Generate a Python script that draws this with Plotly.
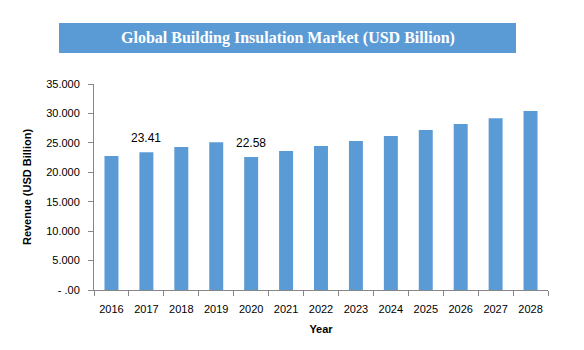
import plotly.graph_objects as go

years = ["2016", "2017", "2018", "2019", "2020", "2021", "2022", "2023", "2024", "2025", "2026", "2027", "2028"]
revenue = [22.75, 23.41, 24.28, 25.10, 22.58, 23.60, 24.45, 25.30, 26.15, 27.20, 28.20, 29.20, 30.40]
bar_labels = ["", "23.41", "", "", "22.58", "", "", "", "", "", "", "", ""]
ytick_vals = [0, 5, 10, 15, 20, 25, 30, 35]
ytick_text = [" - .00", "5.000", "10.000", "15.000", "20.000", "25.000", "30.000", "35.000"]

title_text = "Global Building Insulation Market (USD Billion)"

W, H = 584, 350
L, R, T, B = 94, 36, 84, 60
pw, ph = W - L - R, H - T - B

def px_x(x):
    return (x - L) / pw

def px_y(y):
    return (H - B - y) / ph

fig = go.Figure()
fig.add_trace(go.Bar(
    x=years, y=revenue,
    marker=dict(color="#5B9BD5", line=dict(width=0)),
))

for i, (yr, v, lab) in enumerate(zip(years, revenue, bar_labels)):
    if lab:
        fig.add_annotation(x=i, y=v, text=lab, showarrow=False,
                           yanchor="middle", yshift=14,
                           font=dict(family="Liberation Sans", size=12, color="#000000"))

fig.add_shape(type="rect", xref="paper", yref="paper",
              x0=px_x(59), x1=px_x(516), y0=px_y(53), y1=px_y(23),
              fillcolor="#5B9BD5", line=dict(width=0), layer="below")
fig.add_annotation(xref="paper", yref="paper", x=px_x(288), y=px_y(38),
                   text="<b>" + title_text + "</b>", showarrow=False,
                   font=dict(family="Liberation Serif", size=16, color="#FFFFFF"),
                   xanchor="center", yanchor="middle")

fig.update_layout(
    width=W, height=H,
    margin=dict(l=L, r=R, t=T, b=B),
    paper_bgcolor="#FFFFFF", plot_bgcolor="#FFFFFF",
    showlegend=False,
    bargap=0.6,
    font=dict(family="Liberation Sans", size=11, color="#000000"),
    xaxis=dict(
        type="category",
        showline=True, linecolor="#868686", linewidth=1,
        ticks="outside", tickson="boundaries", ticklen=5, tickcolor="#868686",
        showgrid=False, ticklabelstandoff=9, tickangle=0,
        tickfont=dict(family="Liberation Sans", size=11, color="#000000"),
        title=dict(text="<b>Year</b>", font=dict(family="Liberation Sans", size=11, color="#000000"), standoff=11),
    ),
    yaxis=dict(
        range=[0, 35], tickvals=ytick_vals, ticktext=ytick_text,
        showline=True, linecolor="#868686", linewidth=1,
        ticks="outside", ticklen=5, tickcolor="#868686",
        showgrid=False, zeroline=False, ticklabelstandoff=6,
        tickfont=dict(family="Liberation Sans", size=11, color="#000000"),
        title=dict(text="<b>Revenue (USD Billion)</b>", font=dict(family="Liberation Sans", size=11, color="#000000"), standoff=12),
    ),
)

fig.write_html("out.html")
